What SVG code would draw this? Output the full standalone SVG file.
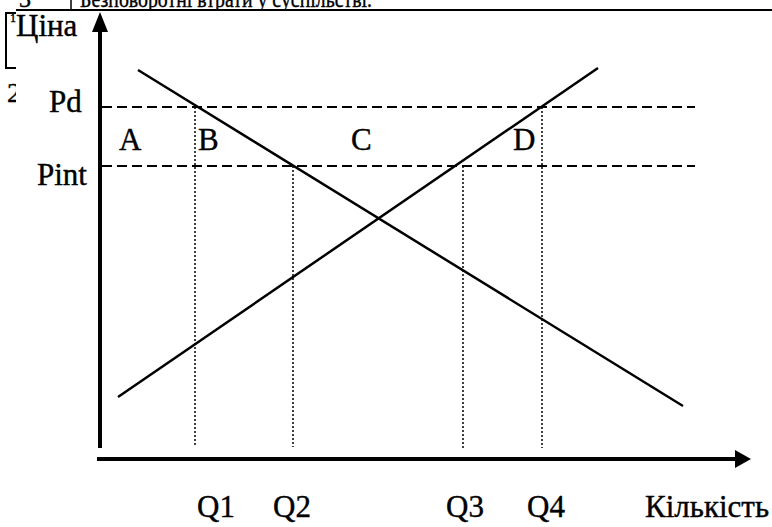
<svg xmlns="http://www.w3.org/2000/svg" width="772" height="527" viewBox="0 0 772 527">
<defs>
<style>
.t{font-family:"Liberation Serif","Times New Roman","DejaVu Serif",serif;fill:#000;stroke:#000;stroke-width:0.4}
.lbl{font-size:31px}
.dash{stroke:#000;stroke-width:2;stroke-dasharray:10 5;fill:none}
.dot{stroke:#000;stroke-width:1.5;stroke-dasharray:2 2;fill:none}
.curve{stroke:#000;stroke-width:2.5;fill:none}
.axis{stroke:#000;stroke-width:4;fill:none}
</style>
<clipPath id="top"><rect x="0" y="0" width="772" height="9"/></clipPath>
<clipPath id="two"><rect x="0" y="70" width="16" height="40"/></clipPath>
</defs>
<g id="header">
<g clip-path="url(#top)">
<text class="t" x="19" y="7" font-size="24">3</text>
<text class="t" x="80" y="7" font-size="24" textLength="292" lengthAdjust="spacingAndGlyphs">Безповоротні втрати у суспільстві.</text>
</g>
<line x1="16" y1="10" x2="772" y2="10" stroke="#000" stroke-width="2"/>
<line x1="71" y1="0" x2="71" y2="10" stroke="#000" stroke-width="1.5"/>
<polyline points="16,13 6,13 6,68 16,68" fill="none" stroke="#000" stroke-width="2"/>
<text class="t" x="10" y="22" font-size="12">1</text>
<text class="t" x="7" y="102" font-size="28" clip-path="url(#two)">2</text>
</g>
<g id="axes">
<line class="axis" x1="100" y1="26" x2="100" y2="448"/>
<polygon points="100,12 92,32 108,32"/>
<line class="axis" x1="97" y1="459" x2="738" y2="459"/>
<polygon points="751,459 735,450 735,468"/>
<text class="t lbl" x="16" y="36">Ціна</text>
<text class="t lbl" x="645" y="517">Кількість</text>
</g>
<g id="price-lines">
<line class="dash" x1="102" y1="107" x2="695" y2="107"/>
<line class="dash" x1="102" y1="166" x2="695" y2="166"/>
<text class="t lbl" x="49" y="112">Pd</text>
<text class="t lbl" x="37" y="185">Pint</text>
</g>
<g id="connectors">
<line class="curve" x1="138" y1="70" x2="683" y2="406"/>
<line class="curve" x1="118" y1="397" x2="598" y2="68"/>
<line class="dot" x1="195" y1="107" x2="195" y2="447"/>
<line class="dot" x1="293" y1="166" x2="293" y2="447"/>
<line class="dot" x1="463" y1="166" x2="463" y2="448"/>
<line class="dot" x1="542" y1="107" x2="542" y2="448"/>
</g>
<g id="areas">
<text class="t lbl" x="119" y="150">A</text>
<text class="t lbl" x="198" y="150">B</text>
<text class="t lbl" x="351" y="150">C</text>
<text class="t lbl" x="513" y="150">D</text>
</g>
<g id="quantities">
<text class="t lbl" x="197" y="517">Q1</text>
<text class="t lbl" x="273" y="517">Q2</text>
<text class="t lbl" x="446" y="517">Q3</text>
<text class="t lbl" x="527" y="517">Q4</text>
</g>
</svg>
